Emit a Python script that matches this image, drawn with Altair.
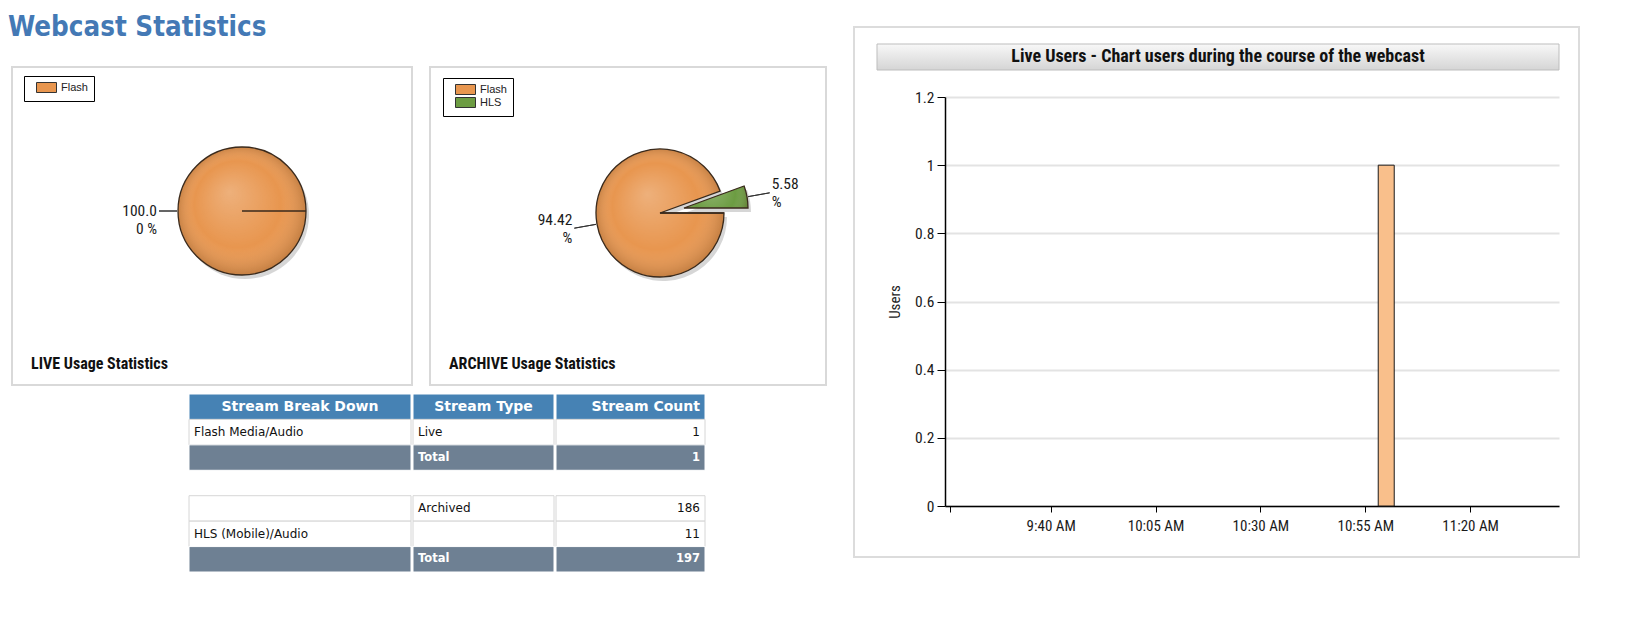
import math
import pandas as pd
import altair as alt

# ---------------- data ----------------
live_streams = ["Flash"]
live_counts = [1]
archive_streams = ["Flash", "HLS"]
archive_counts = [186, 11]

table_headers = ["Stream Break Down", "Stream Type", "Stream Count"]
live_breakdown = ["Flash Media/Audio"]
live_types = ["Live"]
live_stream_counts = [1]
archive_breakdown = ["", "HLS (Mobile)/Audio"]
archive_types = ["Archived", ""]
archive_stream_counts = [186, 11]

user_times = ["11:00 AM"]
user_counts = [1]
x_tick_labels = ["9:40 AM", "10:05 AM", "10:30 AM", "10:55 AM", "11:20 AM"]
x_range_labels = ["9:16 AM", "11:40 AM"]
y_ticks = [0, 0.2, 0.4, 0.6, 0.8, 1, 1.2]

# ---------------- styles ----------------
STREAM_COLORS = {"Flash": "#E8964F", "HLS": "#6C9C42"}
PIE_STROKE = "#3A2A1C"
SANS = "'Liberation Sans'"
NARROW = "'Roboto Condensed', 'Liberation Sans'"
VERD = "'DejaVu Sans'"
VERD_C = "'DejaVu Sans Condensed', 'DejaVu Sans'"
HEAD_BLUE = "#4682B4"
TOTAL_GRAY = "#6E8093"
NOSTROKE = alt.ViewBackground(stroke="transparent", strokeWidth=0)
RECT_PATH = "M0.2,-1L4.2,-1L4.2,1L0.2,1Z"
dummy = pd.DataFrame({"d": [0]})

DAY = "2013-01-01 "


def ms(t):
    return int(pd.Timestamp(DAY + t, tz="UTC").value // 10**6)


shade = alt.RadialGradient(
    gradient="radial",
    stops=[
        alt.GradientStop(offset=0, color="rgba(255,255,255,0.25)"),
        alt.GradientStop(offset=0.65, color="rgba(255,255,255,0)"),
        alt.GradientStop(offset=1, color="rgba(60,30,0,0.25)"),
    ],
    x1=0.4, y1=0.35, r1=0, x2=0.5, y2=0.5, r2=0.52,
)


def pie_panel(streams, counts, width, height, cx, cy, r, explode, legend_xy, title, label_dy, label_gap):
    total = sum(counts)
    df = pd.DataFrame({"stream": streams, "count": counts, "order": list(range(len(streams)))})
    theta_scale = alt.Scale(domain=[0, total], range=[math.pi / 2, math.pi / 2 + 2 * math.pi])
    color_scale = alt.Scale(domain=streams, range=[STREAM_COLORS[s] for s in streams])
    legend = alt.Legend(
        title=None, orient="none", legendX=legend_xy[0], legendY=legend_xy[1],
        direction="vertical", symbolType=RECT_PATH, symbolSize=100,
        symbolStrokeColor="#333", symbolStrokeWidth=1, labelFont=SANS,
        labelFontSize=11, labelColor="#222", strokeColor="#000", fillColor="#fff",
        padding=6, rowPadding=-2, labelOffset=20,
    )
    base = (
        alt.Chart(df)
        .transform_window(cum="sum(count)", sort=[alt.SortField("order")])
        .transform_calculate(
            start="datum.cum - datum.count",
            mid="datum.cum - datum.count / 2",
            pct=f"format(100 * datum.count / {total}, '.2f') + ' %'",
        )
        .transform_calculate(
            label="trim(substring(datum.pct, 0, 5)) + '\\n' + trim(substring(datum.pct, 5))"
        )
    )
    layers = []
    cum = 0
    for i, s in enumerate(streams):
        frac_mid = (cum + counts[i] / 2) / total
        cum += counts[i]
        ang = math.pi / 2 + 2 * math.pi * frac_mid
        dx, dy = explode.get(s, (0, 0))
        px, py = cx + dx, cy + dy
        align = "left" if math.sin(ang) > 0 else "right"
        sl = base.transform_filter(alt.datum.stream == s)
        th = alt.Theta("start:Q", scale=theta_scale, stack=False)
        th2 = alt.Theta2("cum:Q")
        thm = alt.Theta("mid:Q", scale=theta_scale, stack=False)
        pos = dict(x=alt.value(px), y=alt.value(py))
        layers.append(sl.mark_arc(radius=r, fill="#000", fillOpacity=0.16).encode(
            theta=th, theta2=th2, x=alt.value(px + 3), y=alt.value(py + 4)))
        layers.append(sl.mark_arc(radius=r).encode(
            theta=th, theta2=th2,
            color=alt.Color("stream:N", scale=color_scale, legend=legend), **pos))
        layers.append(sl.mark_arc(radius=r, fill=shade).encode(theta=th, theta2=th2, **pos))
        layers.append(sl.mark_arc(radius=r, fillOpacity=0, stroke=PIE_STROKE, strokeWidth=1.3).encode(
            theta=th, theta2=th2, **pos))
        if s not in explode:
            layers.append(sl.mark_arc(radius=r, radius2=0, fillOpacity=0, stroke=PIE_STROKE, strokeWidth=1.3).encode(
                theta=th, theta2=alt.Theta2("start:Q"), **pos))
        layers.append(sl.mark_arc(radius=r + label_gap - 2, radius2=r + 1, fillOpacity=0, stroke="#333",
                                  strokeWidth=1).encode(theta=thm, theta2=alt.Theta2("mid:Q"), **pos))
        layers.append(sl.mark_text(radius=r + label_gap, align=align, baseline="middle", lineBreak="\n",
                                   lineHeight=18, dy=label_dy, font=NARROW, fontSize=15.5,
                                   color="#1a1a1a").encode(theta=thm, text="label:N", **pos))
    layers.append(alt.Chart(pd.DataFrame({"t": [title]})).mark_text(
        align="left", baseline="middle", font=NARROW, fontSize=16, fontWeight="bold", color="#111"
    ).encode(text="t:N", x=alt.value(19), y=alt.value(height - 21)))
    return alt.layer(*layers).properties(width=width, height=height)


pie1 = pie_panel(live_streams, live_counts, 400, 318, 230, 144, 64, {}, (12, 9),
                 "LIVE Usage Statistics", 0, 21)
pie2 = pie_panel(archive_streams, archive_counts, 396, 318, 230, 146, 64, {"HLS": (24, -5)}, (13, 11),
                 "ARCHIVE Usage Statistics", -8.5, 25)
pies_row = alt.hconcat(pie1, pie2, spacing=16).resolve_scale(
    color="independent", theta="independent").resolve_legend(color="independent")


# ---------------- tables ----------------
def table_column(ci, width):
    live_cols = [live_breakdown, live_types, [str(v) for v in live_stream_counts]]
    arch_cols = [archive_breakdown, archive_types, [str(v) for v in archive_stream_counts]]
    live_total = ["", "Total", str(sum(live_stream_counts))]
    arch_total = ["", "Total", str(sum(archive_stream_counts))]
    texts = [table_headers[ci]] + live_cols[ci] + [live_total[ci]] + [""] + arch_cols[ci] + [arch_total[ci]]
    kinds = (["head"] + ["body"] * len(live_cols[ci]) + ["total"] + ["gap"]
             + ["body"] * len(arch_cols[ci]) + ["total"])
    df = pd.DataFrame({"row": list(range(len(texts))), "kind": kinds, "text": texts})
    yenc = alt.Y("row:O", axis=None,
                 scale=alt.Scale(domain=list(range(len(texts))), paddingInner=0, paddingOuter=0))
    base = alt.Chart(df)
    full = dict(x=alt.value(0), x2=alt.value(width))
    head_align = ["center", "center", "right"][ci]
    body_align = ["left", "left", "right"][ci]
    xpos = {"left": 5, "center": width / 2, "right": width - 5}
    layers = [
        base.transform_filter(alt.datum.kind == "head").mark_rect(fill=HEAD_BLUE, stroke="#fff", strokeWidth=1)
        .encode(y=yenc, **full),
        base.transform_filter(alt.datum.kind == "body").mark_rect(fill="#fff", stroke="#D6D6D6", strokeWidth=1)
        .encode(y=yenc, **full),
        base.transform_filter(alt.datum.kind == "total").mark_rect(fill=TOTAL_GRAY, stroke="#fff", strokeWidth=1)
        .encode(y=yenc, **full),
        base.transform_filter(alt.datum.kind == "head").mark_text(
            align=head_align, baseline="middle", font=VERD, fontSize=14, fontWeight="bold", color="#fff")
        .encode(y=yenc, text="text:N", x=alt.value(xpos[head_align])),
        base.transform_filter(alt.datum.kind == "body").mark_text(
            align=body_align, baseline="middle", font=VERD, fontSize=12, color="#111")
        .encode(y=yenc, text="text:N", x=alt.value(xpos[body_align])),
        base.transform_filter(alt.datum.kind == "total").mark_text(
            align=body_align, baseline="middle", font=VERD, fontSize=11.5, fontWeight="bold", color="#fff")
        .encode(y=yenc, text="text:N", x=alt.value(xpos[body_align])),
    ]
    return alt.layer(*layers).properties(width=width, height=178, view=NOSTROKE)


spacer = alt.Chart(dummy).mark_point(opacity=0).properties(width=176, height=20, view=NOSTROKE)
table_row = alt.hconcat(spacer, table_column(0, 222), table_column(1, 141), table_column(2, 149), spacing=0)

title_chart = alt.Chart(pd.DataFrame({"t": ["Webcast Statistics"]})).mark_text(
    align="left", baseline="middle", font=VERD_C, fontSize=27.5, fontWeight="bold", color="#4479B5"
).encode(text="t:N", x=alt.value(-4), y=alt.value(1)).properties(width=300, height=32, view=NOSTROKE)

left = alt.vconcat(title_chart, pies_row, table_row, spacing=7)

# ---------------- live users chart ----------------
x_dom = [ms(t) for t in x_range_labels]
tick_ms = [x_dom[0]] + [ms(t) for t in x_tick_labels]
bar_df = pd.DataFrame({"time": [ms(t) for t in user_times], "users": user_counts})

RH = 530
xenc = alt.X(
    "time:T", title=None,
    scale=alt.Scale(type="utc", domain=x_dom, nice=False),
    axis=alt.Axis(values=tick_ms, labelExpr=f"datum.value <= {x_dom[0]} ? '' : utcFormat(datum.value, '%-I:%M %p')",
                  grid=False, domainColor="#000", domainWidth=1.5, tickColor="#000", tickSize=6,
                  labelFont=NARROW, labelFontSize=15, labelColor="#1a1a1a", labelPadding=6,
                  labelFlush=False, labelOverlap=False, offset=-51),
)
yenc = alt.Y(
    "users:Q",
    scale=alt.Scale(domain=[0, 1.2], nice=False, zero=True, range=[479, 70]),
    axis=alt.Axis(values=y_ticks, format=".1~f", title="Users", titleFont=NARROW, titleFontSize=15,
                  titleFontWeight="normal", titleColor="#222", titlePadding=12, grid=True,
                  gridColor="#E3E3E3", gridWidth=2, domainColor="#000", domainWidth=1.5,
                  tickColor="#000", tickSize=8, labelFont=NARROW, labelFontSize=15.5,
                  labelColor="#1a1a1a", labelPadding=3),
)

title_grad = alt.LinearGradient(
    gradient="linear",
    stops=[alt.GradientStop(offset=0, color="#F8F8F8"), alt.GradientStop(offset=1, color="#D5D5D5")],
    x1=0, x2=0, y1=0, y2=1,
)

outer_box = alt.Chart(dummy).mark_rect(fill="#fff", fillOpacity=0, stroke="#DCDCDC", strokeWidth=2).encode(
    x=alt.value(-91), x2=alt.value(634), y=alt.value(0), y2=alt.value(RH))
title_bar = alt.Chart(dummy).mark_rect(fill=title_grad, stroke="#BDBDBD", strokeWidth=1).encode(
    x=alt.value(-68), x2=alt.value(614), y=alt.value(17), y2=alt.value(43))
title_text = alt.Chart(pd.DataFrame({"t": ["Live Users - Chart users during the course of the webcast"]})).mark_text(
    align="center", baseline="middle", font=NARROW, fontSize=18, fontWeight="bold", color="#111"
).encode(text="t:N", x=alt.value(273), y=alt.value(30))
bars = alt.Chart(bar_df).mark_bar(width=16, color="#F9BF8B", stroke="#1a1a1a", strokeWidth=1).encode(x=xenc, y=yenc)

right = alt.layer(outer_box, title_bar, title_text, bars).properties(
    width=614, height=RH, view=NOSTROKE)

chart = (
    alt.hconcat(left, right, spacing=26)
    .properties(padding={"left": 0, "top": 6, "right": 5, "bottom": 5})
    .configure(background="white")
    .configure_view(stroke="#D9D9D9", strokeWidth=2)
)

chart.save("out.html", embed_options={"renderer": "svg", "actions": False})
